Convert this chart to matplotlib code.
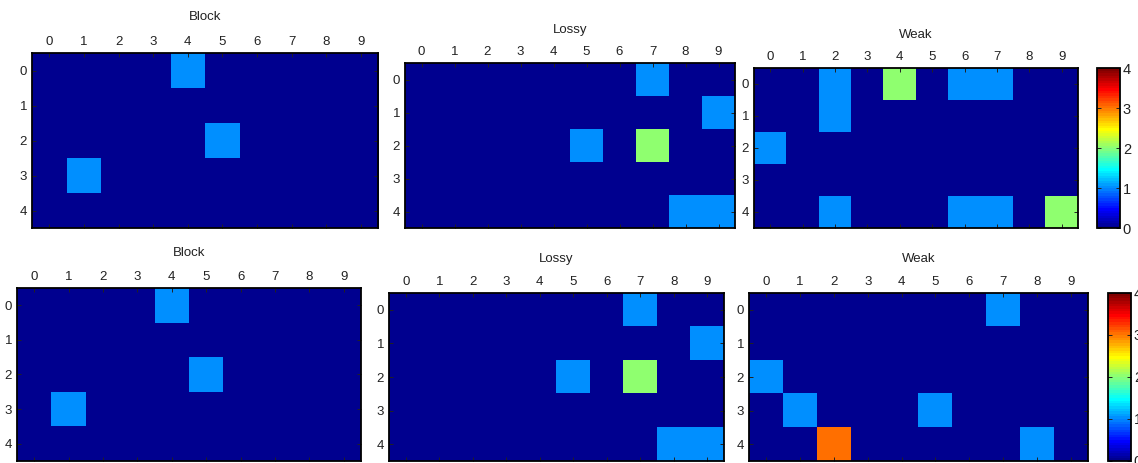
import numpy as np
import matplotlib
matplotlib.use("Agg")
import matplotlib.pyplot as plt
from matplotlib.colors import ListedColormap

plt.rcParams['font.family'] = ['Liberation Sans', 'DejaVu Sans']

# -----------------------------------------------------------------------------
# data (5 rows x 10 columns per panel)
# -----------------------------------------------------------------------------
titles = ['Block', 'Lossy', 'Weak']
col_labels = [0, 1, 2, 3, 4, 5, 6, 7, 8, 9]
row_labels = [0, 1, 2, 3, 4]
cbar_ticks = [0, 1, 2, 3, 4]

block_top = [
    [0, 0, 0, 0, 1, 0, 0, 0, 0, 0],
    [0, 0, 0, 0, 0, 0, 0, 0, 0, 0],
    [0, 0, 0, 0, 0, 1, 0, 0, 0, 0],
    [0, 1, 0, 0, 0, 0, 0, 0, 0, 0],
    [0, 0, 0, 0, 0, 0, 0, 0, 0, 0],
]
lossy_top = [
    [0, 0, 0, 0, 0, 0, 0, 1, 0, 0],
    [0, 0, 0, 0, 0, 0, 0, 0, 0, 1],
    [0, 0, 0, 0, 0, 1, 0, 2, 0, 0],
    [0, 0, 0, 0, 0, 0, 0, 0, 0, 0],
    [0, 0, 0, 0, 0, 0, 0, 0, 1, 1],
]
weak_top = [
    [0, 0, 1, 0, 2, 0, 1, 1, 0, 0],
    [0, 0, 1, 0, 0, 0, 0, 0, 0, 0],
    [1, 0, 0, 0, 0, 0, 0, 0, 0, 0],
    [0, 0, 0, 0, 0, 0, 0, 0, 0, 0],
    [0, 0, 1, 0, 0, 0, 1, 1, 0, 2],
]
block_bottom = [
    [0, 0, 0, 0, 1, 0, 0, 0, 0, 0],
    [0, 0, 0, 0, 0, 0, 0, 0, 0, 0],
    [0, 0, 0, 0, 0, 1, 0, 0, 0, 0],
    [0, 1, 0, 0, 0, 0, 0, 0, 0, 0],
    [0, 0, 0, 0, 0, 0, 0, 0, 0, 0],
]
lossy_bottom = [
    [0, 0, 0, 0, 0, 0, 0, 1, 0, 0],
    [0, 0, 0, 0, 0, 0, 0, 0, 0, 1],
    [0, 0, 0, 0, 0, 1, 0, 2, 0, 0],
    [0, 0, 0, 0, 0, 0, 0, 0, 0, 0],
    [0, 0, 0, 0, 0, 0, 0, 0, 1, 1],
]
weak_bottom = [
    [0, 0, 0, 0, 0, 0, 0, 1, 0, 0],
    [0, 0, 0, 0, 0, 0, 0, 0, 0, 0],
    [1, 0, 0, 0, 0, 0, 0, 0, 0, 0],
    [0, 1, 0, 0, 0, 1, 0, 0, 0, 0],
    [0, 0, 3, 0, 0, 0, 0, 0, 1, 0],
]

# -----------------------------------------------------------------------------
# MATLAB-style jet(64)
# -----------------------------------------------------------------------------
def matlab_jet(m=64):
    n = int(np.ceil(m / 4))
    u = np.concatenate([np.arange(1, n + 1) / n, np.ones(n - 1), np.arange(n, 0, -1) / n])
    g = int(np.ceil(n / 2)) - (1 if m % 4 == 1 else 0) + np.arange(1, len(u) + 1)
    r = g + n
    b = g - n
    J = np.zeros((m, 3))
    for idx, ch in ((r, 0), (g, 1), (b, 2)):
        ok = (idx >= 1) & (idx <= m)
        J[idx[ok] - 1, ch] = u[ok]
    return ListedColormap(J)

jet = matlab_jet(64)

# -----------------------------------------------------------------------------
# figure, axes placed in pixel coordinates (left, top, right, bottom)
# -----------------------------------------------------------------------------
W, H = 1138, 463
fig = plt.figure(figsize=(W / 100, H / 100), dpi=100)
fig.patch.set_facecolor('white')

def px_axes(l, t, r, b):
    return fig.add_axes([l / W, 1 - b / H, (r - l) / W, (b - t) / H])

rows = [
    ([block_top, lossy_top, weak_top],
     [(32, 53, 378, 228), (405, 63, 735, 228), (754, 68, 1078, 228)],
     [36, 33, 33],
     (1097, 68, 1120, 228)),
    ([block_bottom, lossy_bottom, weak_bottom],
     [(17, 288, 361, 461), (389, 293, 724, 461), (749, 293, 1088, 461)],
     [35, 34, 34],
     (1108, 293, 1131, 461)),
]

for mats, boxes, title_off, cbox in rows:
    im = None
    for mat, box, name, toff in zip(mats, boxes, titles, title_off):
        ax = px_axes(*box)
        im = ax.imshow(np.array(mat), cmap=jet, vmin=0, vmax=4,
                       aspect='auto', interpolation='nearest')
        ax.set_xticks(range(len(col_labels)))
        ax.set_xticklabels(col_labels)
        ax.set_yticks(range(len(row_labels)))
        ax.set_yticklabels(row_labels)
        ax.xaxis.tick_top()
        ax.tick_params(direction='in', top=True, bottom=True, left=True, right=True,
                       labeltop=True, labelbottom=False, length=3, width=0.7,
                       labelsize=9.5, pad=3.5, colors='#222222')
        for s in ax.spines.values():
            s.set_linewidth(1.3)
            s.set_color('black')
        ax.annotate(name, xy=(0.5, 1), xycoords='axes fraction',
                    xytext=(0, toff * 0.72), textcoords='offset points',
                    ha='center', va='center', fontsize=9.5, color='#222222')

    cax = px_axes(*cbox)
    cb = fig.colorbar(im, cax=cax, ticks=cbar_ticks)
    cb.outline.set_linewidth(1.3)
    cax.tick_params(direction='in', left=True, right=True, length=3, width=0.7,
                    labelsize=10.5, pad=2, colors='#222222')

fig.savefig('out.png', dpi=100, facecolor='white')
